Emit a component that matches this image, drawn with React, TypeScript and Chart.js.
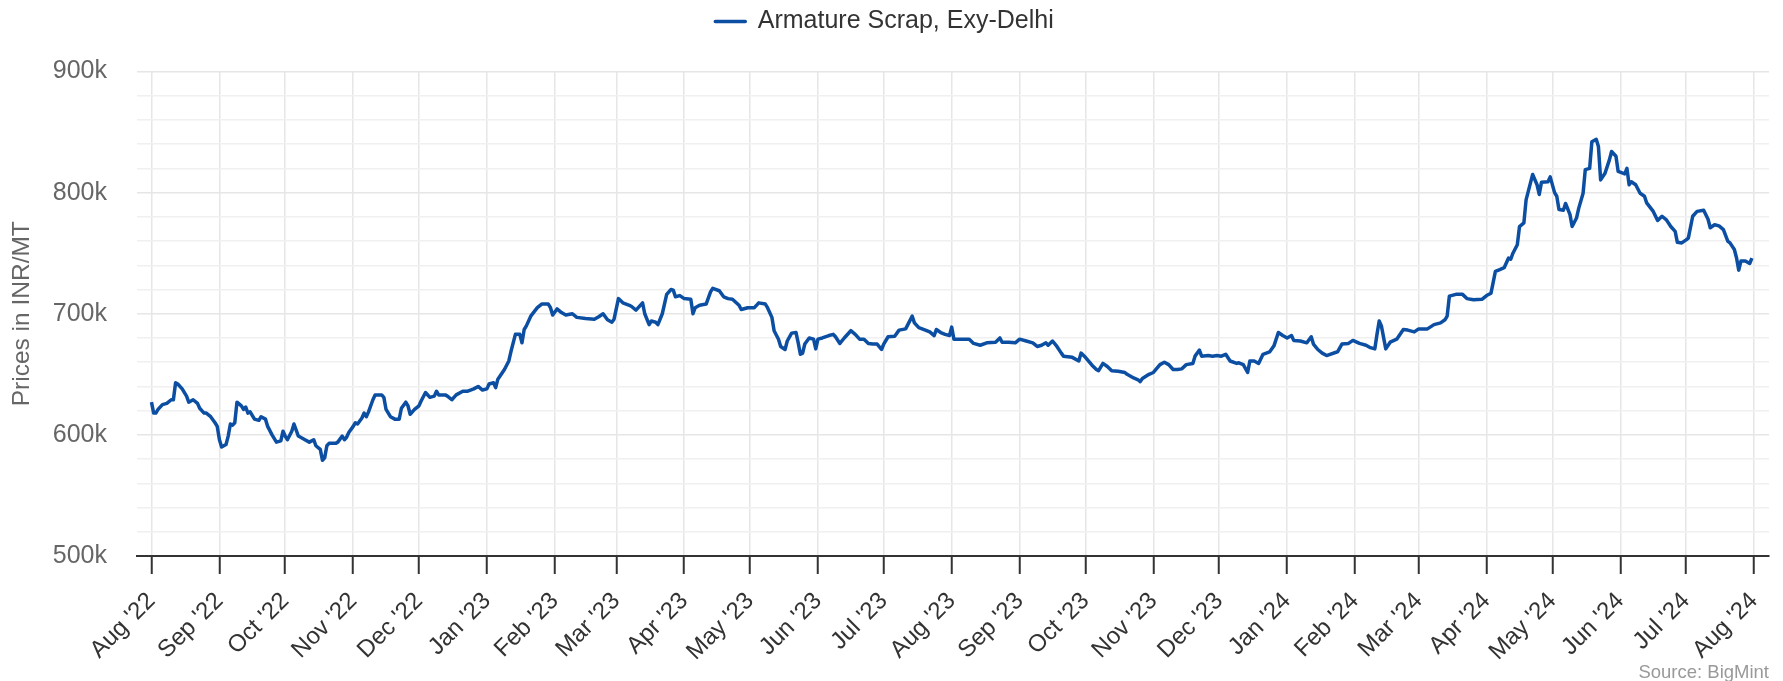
import React, { useEffect, useRef } from 'react';
import { Chart, registerables } from 'chart.js';

Chart.register(...registerables);

const SERIES_NAME = 'Armature Scrap, Exy-Delhi';
const Y_TITLE = 'Prices in INR/MT';
const SOURCE_NOTE = 'Source: BigMint';
// x values are days counted from 1 Aug 2022; prices are in thousand INR/MT
const START = { year: 2022, month: 7 };

const daysA = [
  0, 1, 2, 3, 5, 7, 9, 10, 11, 12,
  14, 16, 17, 19, 21, 22, 24, 25, 27, 29,
  30, 31, 32, 34, 35, 36, 37, 38, 39, 41,
  42, 43, 44, 45, 47, 49, 50, 52, 53, 55,
  57, 59, 60, 61, 62, 64, 65, 67, 68, 70,
  72, 74, 75, 77, 78, 79, 80, 81, 84, 85,
  87, 88, 89, 90, 92, 93, 94, 96, 97, 98,
  99, 101, 102, 105, 106, 107, 109, 111, 113, 114,
  116, 117, 118, 120, 122, 123, 125, 127, 129, 130,
  131, 134, 135, 137, 139, 142, 144, 147, 149, 151,
  153, 154, 156, 157, 158, 161, 163, 164, 166, 168,
  169, 170, 171, 173, 176, 178, 181, 182, 183, 185,
  187, 189, 192, 194,
];
const pricesA = [
  627, 618, 618, 621, 625, 626, 629, 629, 643, 642,
  638, 632, 627, 629, 626, 622, 618, 618, 615, 610,
  607, 596, 590, 592, 599, 609, 608, 610, 627, 624,
  621, 623, 618, 619, 613, 612, 615, 613, 607, 600,
  594, 595, 603, 599, 596, 603, 609, 599, 598, 596,
  594, 596, 591, 588, 579, 581, 591, 593, 593, 594,
  599, 596, 598, 602, 607, 610, 609, 614, 618, 615,
  619, 629, 633, 633, 631, 621, 615, 613, 613, 622,
  627, 624, 617, 621, 624, 628, 635, 631, 632, 636,
  633, 633, 632, 629, 633, 636, 636, 638, 640, 637,
  638, 642, 643, 639, 646, 654, 661, 669, 683, 683,
  676, 687, 690, 698, 705, 708, 708, 705, 699, 704,
  701, 699, 700, 697,
];

const daysB = [
  198, 202, 204, 206, 208, 210, 211, 213, 215, 218,
  219, 221, 224, 225, 227, 228, 230, 231, 233, 235,
  237, 238, 239, 241, 243, 246, 247, 248, 250, 253,
  255, 256, 259, 261, 263, 265, 268, 269, 272, 275,
  277, 280, 281, 283, 284, 286, 287, 289, 290, 292,
  294, 295, 296, 297, 298, 300, 302, 303, 304, 306,
  309, 311, 312, 314, 316, 319, 321, 323, 325, 327,
  329, 331, 333, 334, 336, 339, 341, 344, 347, 348,
  350, 353, 355, 357, 358, 360, 362, 364, 365, 366,
  369, 373, 375, 378, 381, 385, 387, 388, 391,
];
const pricesB = [
  696, 695.5, 697.5, 700, 695, 693, 695.5, 712.5, 709, 707,
  706, 703, 709, 700, 691, 694, 693, 691, 700, 716,
  720, 719.5, 714, 715, 712.5, 712, 700, 705, 707, 708,
  718, 721, 719, 714, 712.5, 712, 707, 703.5, 705, 705,
  709, 708, 705, 697, 686, 679, 673, 670.5, 677.5, 684,
  684.5, 676, 666.5, 667.5, 675, 680, 679, 671, 679, 680,
  682, 683, 681, 675.5, 680, 686, 683, 679, 679, 675.5,
  675, 675, 670.5, 675, 681, 681.5, 686.5, 687.5, 698, 692.5,
  688.5, 686.5, 685, 682, 687, 684.5, 683, 682, 689, 679,
  679, 679, 675.5, 674, 676, 676.5, 680, 676.5, 676.5,
];

const daysC = [
  394, 396, 399, 402, 404, 406, 408, 409, 411, 413,
  415, 416, 420, 423, 424, 426, 429, 431, 432, 434,
  436, 438, 441, 444, 445, 448, 450, 451, 452, 455,
  457, 460, 462, 464, 466, 468, 470, 472, 475, 476,
  478, 479, 482, 484, 486, 488, 490, 492, 495, 496,
  498, 500, 501, 503, 505, 507, 510, 512, 514, 516,
  518, 520, 521, 524, 527, 529, 530, 532, 534, 536,
  540, 541, 543, 546, 548, 551, 554, 556, 558, 559,
  560, 561, 563, 565, 568, 571, 573, 576, 578, 582,
  585, 588,
];
const pricesC = [
  676, 679, 677.5, 676, 673, 674, 676, 674, 677.5, 673,
  667.5, 665, 664, 661, 667.5, 664, 657.5, 654, 653, 659,
  656.5, 653, 652.5, 651.5, 650, 647, 645.5, 644, 646.5, 650,
  651.5, 658, 660, 658, 654, 654, 654.5, 658, 659, 665,
  670, 665, 665.5, 665, 665.5, 665, 666.5, 661, 659, 659.5,
  658, 651.5, 661, 661, 659, 666.5, 668.5, 673.5, 684.5, 682,
  680, 682, 678, 677.5, 676, 681, 675, 670.5, 667.5, 665.5,
  668, 668.5, 675, 675.5, 678, 675.5, 674, 672, 671, 683,
  694, 690, 671, 676.5, 679, 687, 686.5, 685, 687.5, 687.5,
  691, 692.5,
];

const daysD = [
  590, 591, 592, 595, 598, 600, 603, 607, 609, 611,
  613, 615, 617, 619, 620, 621, 623, 624, 626, 627,
  629, 630, 632, 633, 634, 637, 638, 640, 641, 642,
  644, 645, 647, 648, 650, 651, 653, 654, 656, 657,
  659, 660, 661, 663, 665, 666, 668, 669, 672, 673,
  674, 675, 677, 679, 681, 682, 685, 687, 689, 691,
  693, 695, 696, 698, 700, 701, 703, 705, 708, 710,
  711, 713, 715, 717, 719, 720, 722, 723, 724, 725,
  727, 729, 730,
];
const pricesD = [
  695, 698, 714.5, 716, 716, 712.5, 711.5, 712, 715, 717,
  735, 736.5, 738, 746, 745, 750, 757, 772, 775, 794,
  808, 815, 806.5, 798.5, 808.5, 809, 813, 800, 797, 786,
  785.5, 791, 782, 772, 779, 787, 799.5, 819, 820, 842,
  844, 838, 810.5, 816, 827, 834, 830, 817.5, 815.5, 820,
  806.5, 809, 806.5, 799.5, 797, 791.5, 784.5, 777, 780.5, 777.5,
  772, 768, 759, 758.5, 761, 762.5, 780.5, 784.5, 785.5, 778,
  771, 773.5, 772.5, 769.5, 760, 758.5, 753, 746, 736, 743.5,
  743.5, 741.5, 746,
];

const monthLabels = [
  "Aug '22", "Sep '22", "Oct '22", "Nov '22", "Dec '22",
  "Jan '23", "Feb '23", "Mar '23", "Apr '23", "May '23", "Jun '23", "Jul '23",
  "Aug '23", "Sep '23", "Oct '23", "Nov '23", "Dec '23",
  "Jan '24", "Feb '24", "Mar '24", "Apr '24", "May '24", "Jun '24", "Jul '24", "Aug '24",
];

const FONT = '"Liberation Sans", Arial, Helvetica, sans-serif';
const LINE_COLOR = '#0b4ea2';

const dayOf = (monthIndex: number) =>
  (Date.UTC(START.year, START.month + monthIndex, 1) - Date.UTC(START.year, START.month, 1)) / 86400000;
const monthTicks = monthLabels.map((_, i) => dayOf(i));

const allDays = [...daysA, ...daysB, ...daysC, ...daysD];
const allPrices = [...pricesA, ...pricesB, ...pricesC, ...pricesD];

const legendSpacer = {
  id: 'legendSpacer',
  beforeLayout(chart: any) {
    const lg = chart.legend;
    if (lg && !lg.__patched) {
      const orig = lg.fit.bind(lg);
      lg.fit = function () {
        orig();
        this.height = 71.5;
      };
      lg.__patched = true;
    }
  },
};

const sourceNote = {
  id: 'sourceNote',
  afterDraw(chart: any) {
    const c = chart.ctx;
    c.save();
    c.font = `18.5px ${FONT}`;
    c.fillStyle = '#999999';
    c.textAlign = 'right';
    c.textBaseline = 'alphabetic';
    c.fillText(SOURCE_NOTE, chart.chartArea.right, 677.5);
    c.restore();
  },
};

export default function App() {
  const ref = useRef<HTMLCanvasElement | null>(null);

  useEffect(() => {
    if (!ref.current) return;
    const chart = new Chart(ref.current, {
      type: 'line',
      data: {
        datasets: [
          {
            label: SERIES_NAME,
            data: allDays.map((d, i) => ({ x: d, y: allPrices[i] })),
            borderColor: LINE_COLOR,
            backgroundColor: LINE_COLOR,
            borderWidth: 3.5,
            pointRadius: 0,
            tension: 0,
            borderJoinStyle: 'round',
            borderCapStyle: 'butt',
          },
        ],
      },
      options: {
        animation: false,
        responsive: true,
        maintainAspectRatio: false,
        layout: { padding: { left: 0, right: 14, top: 0, bottom: 0 } },
        font: { family: FONT },
        plugins: {
          legend: {
            position: 'top',
            labels: {
              color: '#333333',
              font: { family: FONT, size: 25 },
              boxWidth: 30,
              boxHeight: 0,
              padding: 9,
            },
          },
          tooltip: { enabled: false },
        },
        scales: {
          x: {
            type: 'linear',
            min: -6.6,
            max: 737.8,
            afterBuildTicks: (scale: any) => {
              scale.ticks = monthTicks.map((v) => ({ value: v }));
            },
            afterFit: (scale: any) => {
              scale.height = 125;
              scale.paddingRight = 0;
              scale.paddingLeft = 0;
            },
            ticks: {
              autoSkip: false,
              maxRotation: 45,
              minRotation: 45,
              padding: 13,
              color: '#333333',
              font: { family: FONT, size: 24 },
              callback: (_v: any, i: number) => monthLabels[i],
            },
            grid: {
              color: '#e6e6e6',
              lineWidth: 1.5,
              drawTicks: true,
              tickLength: 18,
              tickColor: '#333333',
              tickWidth: 2,
            },
            border: { display: true, color: '#333333', width: 2 },
          },
          y: {
            type: 'linear',
            min: 500,
            max: 900,
            afterFit: (scale: any) => {
              scale.width = 137;
            },
            ticks: {
              stepSize: 20,
              autoSkip: false,
              padding: 30,
              color: '#666666',
              font: { family: FONT, size: 25 },
              callback: (v: any) => (Number(v) % 100 === 0 ? `${v}k` : ''),
            },
            grid: {
              color: (ctx: any) =>
                ctx.tick && ctx.tick.value % 100 === 0 ? '#e6e6e6' : '#f0f0f0',
              lineWidth: 1.5,
              drawTicks: false,
            },
            border: { display: false },
            title: {
              display: true,
              text: Y_TITLE,
              color: '#666666',
              font: { family: FONT, size: 24.5 },
              padding: { top: 8, bottom: 0 },
            },
          },
        },
      } as any,
      plugins: [legendSpacer, sourceNote],
    });
    return () => chart.destroy();
  }, []);

  return (
    <div style={{ position: 'fixed', left: 0, top: 0, width: 1783, height: 681, background: '#fff' }}>
      <canvas ref={ref} />
    </div>
  );
}
